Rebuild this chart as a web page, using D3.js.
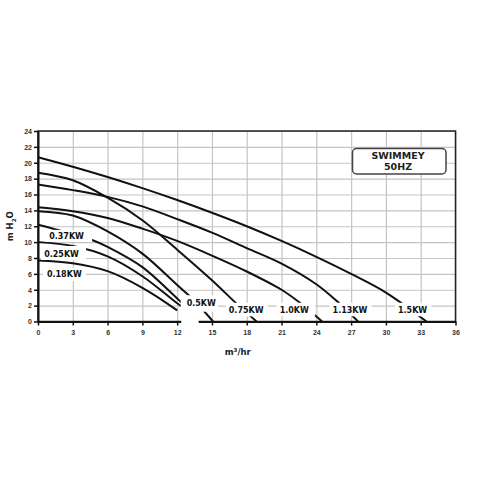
<!DOCTYPE html>
<html>
<head>
<meta charset="utf-8">
<script src="https://cdn.jsdelivr.net/npm/d3@7"></script>
<style>
  body { margin: 0; background: #fff; }
  svg { display: block; font-family: "DejaVu Sans", Verdana, sans-serif; }
</style>
</head>
<body>
<div id="chart"></div>
<script>
/*
 * Swimmey 50Hz pump curves: head (m H2O) against flow (m3/hr)
 */

const xTicks = [0, 3, 6, 9, 12, 15, 18, 21, 24, 27, 30, 33, 36];
const yTicks = [0, 2, 4, 6, 8, 10, 12, 14, 16, 18, 20, 22, 24];

// [flow, head]
const kw018 = [[0, 7.7], [3, 7.35], [6, 6.35], [9, 4.25], [12, 1.4]];
const kw025 = [[0, 10.0], [3, 9.5], [6, 8.2], [9, 5.7], [12, 2.3], [12.6, 1.7]];
const kw037 = [[0, 12.2], [1.8, 11.5], [4.6, 10.3], [6, 9.4], [9, 6.85], [12, 2.9], [12.6, 2.1]];
const kw050 = [[0, 13.9], [3, 13.35], [6, 11.35], [9, 8.55], [12, 4.6], [13.3, 2.9], [15.1, 0]];
const kw075 = [[0, 18.75], [3, 17.8], [6, 15.6], [9, 12.75], [12, 9.05], [15, 5.2], [17.3, 2.0], [18.85, 0]];
const kw100 = [[0, 14.4], [3, 13.9], [6, 13.05], [9, 11.7], [12, 10.15], [15, 8.3], [18, 6.3], [21, 4.0], [22.5, 2.45], [24.5, 0]];
const kw113 = [[0, 17.25], [3, 16.55], [6, 15.7], [9, 14.5], [12, 12.9], [15, 11.2], [18, 9.25], [21, 7.3], [24, 4.7], [25.9, 2.4], [27.6, 0]];
const kw150 = [[0, 20.7], [3, 19.5], [6, 18.2], [9, 16.8], [12, 15.3], [15, 13.7], [18, 12.0], [21, 10.15], [24, 8.15], [27, 6.0], [30, 3.65], [33.5, 0]];

const seriesNames = ['0.18KW', '0.25KW', '0.37KW', '0.5KW', '0.75KW', '1.0KW', '1.13KW', '1.5KW'];
const seriesValues = [kw018, kw025, kw037, kw050, kw075, kw100, kw113, kw150];

// where each name sits, in chart units
const labelX = [2.27, 2.03, 2.46, 14.08, 17.95, 22.1, 26.9, 32.3];
const labelY = [5.96, 8.48, 10.7, 2.34, 1.45, 1.45, 1.45, 1.45];

const margin = {top: 131, right: 24.5, bottom: 158.5, left: 38};
const width = 480 - margin.left - margin.right;
const height = 480 - margin.top - margin.bottom;

// white knock-out behind each name: top, right, bottom, left (px)
const pads = {
  '0.18KW': [2, 4, 2, 4],
  '0.25KW': [4, 7, 1, 3],
  '0.37KW': [2.5, 8, 0.5, 4],
  '0.5KW': [3.5, 2, 4, 6],
  '0.75KW': [3, 4, 1.5, 3],
  '1.0KW': [3, 6, 1.5, 3],
  '1.13KW': [3, 4, 1.5, 3],
  '1.5KW': [3, 4, 1.5, 3]
};

const series = seriesNames.map((name, i) => ({
  name: name,
  values: seriesValues[i],
  lx: labelX[i],
  ly: labelY[i]
}));

const svg = d3.select('#chart').append('svg')
    .attr('width', 480)
    .attr('height', 480);

const g = svg.append('g')
    .attr('transform', `translate(${margin.left},${margin.top})`);

const x = d3.scaleLinear().domain([0, 36]).range([0, width]);
const y = d3.scaleLinear().domain([0, 24]).range([height, 0]);

// grid
g.append('g')
    .attr('transform', `translate(0,${height})`)
    .call(d3.axisBottom(x).tickValues(xTicks).tickSize(-height).tickFormat(''))
    .call(a => a.select('.domain').remove())
    .call(a => a.selectAll('line').attr('stroke', '#c4c4c4').attr('stroke-width', 1.2));

g.append('g')
    .call(d3.axisLeft(y).tickValues(yTicks).tickSize(-width).tickFormat(''))
    .call(a => a.select('.domain').remove())
    .call(a => a.selectAll('line').attr('stroke', '#c4c4c4').attr('stroke-width', 1.2));

// curves
const line = d3.line()
    .x(d => x(d[0]))
    .y(d => y(d[1]))
    .curve(d3.curveCatmullRom.alpha(0.5));

g.append('g')
  .selectAll('path')
  .data(series)
  .join('path')
    .attr('d', d => line(d.values))
    .attr('fill', 'none')
    .attr('stroke', '#111')
    .attr('stroke-width', 2);

// frame and axes
g.append('rect')
    .attr('width', width)
    .attr('height', height)
    .attr('fill', 'none')
    .attr('stroke', '#222')
    .attr('stroke-width', 1.5);

const styleAxis = a => {
  a.select('.domain').attr('stroke', '#111').attr('stroke-width', 2);
  a.selectAll('.tick line').attr('stroke', '#111').attr('stroke-width', 1.5);
  a.selectAll('.tick text')
      .attr('font-size', 7)
      .attr('font-weight', 'bold')
      .attr('fill', '#333');
};

g.append('g')
    .attr('transform', `translate(0,${height})`)
    .call(d3.axisBottom(x).tickValues(xTicks).tickSize(4).tickPadding(5).tickSizeOuter(0))
    .call(styleAxis);

g.append('g')
    .call(d3.axisLeft(y).tickValues(yTicks).tickSize(4).tickPadding(2).tickSizeOuter(0))
    .call(styleAxis);

// names with white knock-outs
const labels = g.append('g');

// gap cut into the x axis under 0.5KW
labels.append('rect')
    .attr('x', x(12.35))
    .attr('y', y(2.4))
    .attr('width', x(13.85) - x(12.35))
    .attr('height', y(-0.35) - y(2.4))
    .attr('fill', '#fff');

series.forEach(d => {
  const t = labels.append('text')
      .attr('x', x(d.lx))
      .attr('y', y(d.ly))
      .attr('dy', '0.35em')
      .attr('text-anchor', 'middle')
      .attr('font-size', 8)
      .attr('font-weight', 'bold')
      .attr('fill', '#111')
      .text(d.name);
  const b = t.node().getBBox();
  const p = pads[d.name];
  labels.insert('rect', () => t.node())
      .attr('x', b.x - p[3])
      .attr('y', b.y - p[0])
      .attr('width', b.width + p[1] + p[3])
      .attr('height', b.height + p[0] + p[2])
      .attr('fill', '#fff');
});

// axis titles
svg.append('text')
    .attr('x', margin.left + x(18) - 9)
    .attr('y', 355)
    .attr('text-anchor', 'middle')
    .attr('font-size', 8.5)
    .attr('font-weight', 'bold')
    .attr('fill', '#222')
    .call(t => t.append('tspan').text('m'))
    .call(t => t.append('tspan').attr('font-size', 5.5).attr('dy', -3.5).text('3'))
    .call(t => t.append('tspan').attr('dy', 3.5).text('/hr'));

svg.append('text')
    .attr('transform', `translate(13,${margin.top + height / 2}) rotate(-90)`)
    .attr('text-anchor', 'middle')
    .attr('font-size', 8.5)
    .attr('font-weight', 'bold')
    .attr('fill', '#222')
    .call(t => t.append('tspan').text('m H'))
    .call(t => t.append('tspan').attr('font-size', 5.5).attr('dy', 2.5).text('2'))
    .call(t => t.append('tspan').attr('dy', -2.5).text('O'));

// title box
const box = svg.append('g')
    .attr('transform', 'translate(352.5,148.5)');

box.append('rect')
    .attr('width', 93.5)
    .attr('height', 25.5)
    .attr('rx', 4)
    .attr('fill', '#fff')
    .attr('stroke', '#444')
    .attr('stroke-width', 1.5);

box.append('text')
    .attr('x', 45.5)
    .attr('y', 10)
    .attr('text-anchor', 'middle')
    .attr('font-size', 9.5)
    .attr('font-weight', 'bold')
    .attr('fill', '#222')
    .text('SWIMMEY');

box.append('text')
    .attr('x', 45.5)
    .attr('y', 21)
    .attr('text-anchor', 'middle')
    .attr('font-size', 9.5)
    .attr('font-weight', 'bold')
    .attr('fill', '#222')
    .text('50HZ');
</script>
</body>
</html>
